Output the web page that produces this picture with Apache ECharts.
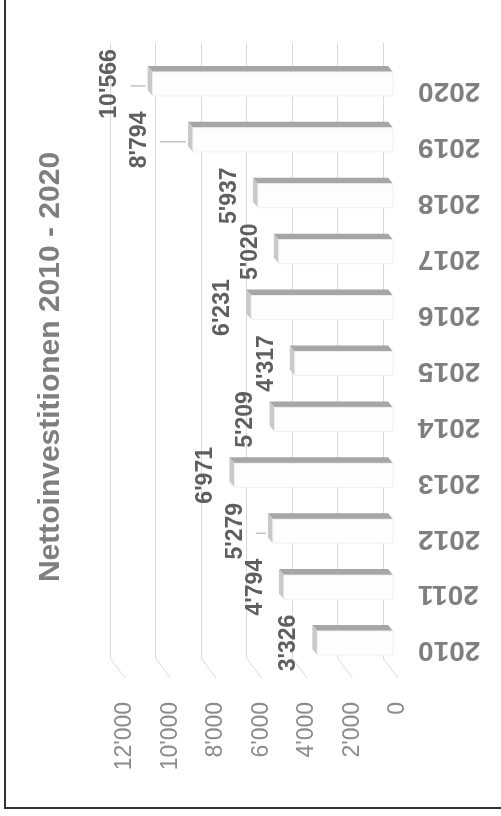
<!DOCTYPE html>
<html>
<head>
<meta charset="utf-8">
<style>
  html, body { margin: 0; padding: 0; background: #fff; }
  #main { width: 501px; height: 816px; }
</style>
<script src="https://cdn.jsdelivr.net/npm/echarts@6/dist/echarts.min.js"></script>
</head>
<body>
<div id="main"></div>
<script>
// chart data
const years = ['2010', '2011', '2012', '2013', '2014', '2015', '2016', '2017', '2018', '2019', '2020'];
const investments = [3326, 4794, 5279, 6971, 5209, 4317, 6231, 5020, 5937, 8794, 10566];
const valueTicks = [0, 2000, 4000, 6000, 8000, 10000, 12000];
const title = 'Nettoinvestitionen 2010 - 2020';

const font = 'Liberation Sans';
const gridColor = '#d9d9d9';
// labels that were pulled away from their bar (with a leader line)
const pulledLabels = { '2020': 26, '2019': 37, '2012': 21 };

function fmt(n) {
    return String(n).replace(/\B(?=(\d{3})+(?!\d))/g, "'");
}

let chartDom = document.getElementById('main');
let myChart = echarts.init(chartDom);
let option;

// 3d-ish bar: back plane of the grid + depth offset
function renderBar(params, api) {
    let cat = api.value(0);
    let v = api.value(1);
    let end = api.coord([v, cat]);
    let base = api.coord([0, cat]);
    let half = api.size([0, 1])[1] * 0.215;
    let yc = end[1];
    let bx = 5, by = 7, fx = 10, fy = 13;

    let children = [
        {
            type: 'polygon',
            shape: { points: [
                [end[0] + bx, yc + by - half], [base[0] + bx, yc + by - half],
                [base[0] + fx, yc + fy - half], [end[0] + fx, yc + fy - half]
            ] },
            style: { fill: '#a6a6a6' }
        },
        {
            type: 'polygon',
            shape: { points: [
                [end[0] + bx, yc + by - half], [end[0] + fx, yc + fy - half],
                [end[0] + fx, yc + fy + half], [end[0] + bx, yc + by + half]
            ] },
            style: { fill: '#c9c9c9' }
        },
        {
            type: 'rect',
            shape: { x: end[0] + fx, y: yc + fy - half, width: base[0] - end[0], height: half * 2 },
            style: { fill: '#fdfdfd', stroke: '#f0f0f0', lineWidth: 1 }
        }
    ];

    let gap = pulledLabels[years[params.dataIndex]] || 12;
    let labelRight = end[0] + bx - gap;
    let ly = yc + fy;
    children.push({
        type: 'text',
        x: labelRight - 11.5,
        y: ly,
        rotation: Math.PI / 2,
        style: {
            text: fmt(v),
            fontFamily: font,
            fontSize: 23,
            fontWeight: 'bold',
            fill: '#5f5f5f',
            align: 'center',
            verticalAlign: 'middle'
        }
    });
    if (pulledLabels[years[params.dataIndex]]) {
        children.push({
            type: 'line',
            shape: { x1: labelRight + 9, y1: ly + 2, x2: end[0] + bx - 2, y2: ly + 2 },
            style: { stroke: '#a6a6a6', lineWidth: 1 }
        });
    }
    return { type: 'group', children: children };
}

// floor lines from the back wall to the front
function renderFloor(params, api) {
    let p = api.coord([api.value(0), 0]);
    let bottom = params.coordSys.y + params.coordSys.height;
    return {
        type: 'line',
        shape: { x1: p[0], y1: bottom, x2: p[0] + 15, y2: bottom + 20 },
        style: { stroke: gridColor, lineWidth: 1 }
    };
}

option = {
    animation: false,
    grid: [
        { left: 110, right: 118, top: 43, bottom: 158 },
        { left: 125, right: 103, top: 63, bottom: 138 }
    ],
    xAxis: [
        {
            gridIndex: 0, type: 'value', inverse: true, min: 0, max: 12000, interval: 2000,
            axisLine: { show: false }, axisTick: { show: false }, axisLabel: { show: false },
            splitLine: { show: true, lineStyle: { color: gridColor, width: 1 } }
        },
        {
            gridIndex: 1, type: 'value', inverse: true, min: 0, max: 12000, interval: 2000,
            axisLine: { show: false }, axisTick: { show: false }, splitLine: { show: false },
            axisLabel: {
                rotate: 90, margin: 24, formatter: fmt,
                fontFamily: font, fontSize: 23, color: '#8c8c8c'
            }
        }
    ],
    yAxis: [
        {
            gridIndex: 0, type: 'category', data: years,
            axisLine: { show: false }, axisTick: { show: false }, axisLabel: { show: false },
            splitLine: { show: false }
        },
        {
            gridIndex: 1, type: 'category', data: years, position: 'right',
            axisLine: { show: false }, axisTick: { show: false }, splitLine: { show: false },
            axisLabel: {
                rotate: 180, margin: 20,
                fontFamily: font, fontSize: 28, fontWeight: 'bold', color: '#7f7f7f'
            }
        }
    ],
    graphic: [
        {
            type: 'rect',
            shape: { x: 5, y: -10, width: 520, height: 818 },
            style: { fill: 'none', stroke: '#333333', lineWidth: 2 }
        },
        {
            type: 'text',
            x: 51, y: 367,
            rotation: Math.PI / 2,
            style: {
                text: title,
                fontFamily: font, fontSize: 30, fontWeight: 'bold',
                fill: '#7f7f7f', align: 'center', verticalAlign: 'middle'
            }
        }
    ],
    series: [
        {
            type: 'custom',
            xAxisIndex: 0, yAxisIndex: 0,
            renderItem: renderFloor,
            data: valueTicks.map(t => [t, 0]),
            encode: { x: 0, y: 1 },
            silent: true
        },
        {
            type: 'custom',
            xAxisIndex: 0, yAxisIndex: 0,
            renderItem: renderBar,
            data: years.map((y, i) => [i, investments[i]]),
            encode: { x: 1, y: 0 },
            silent: true
        }
    ]
};

option && myChart.setOption(option);
</script>
</body>
</html>
